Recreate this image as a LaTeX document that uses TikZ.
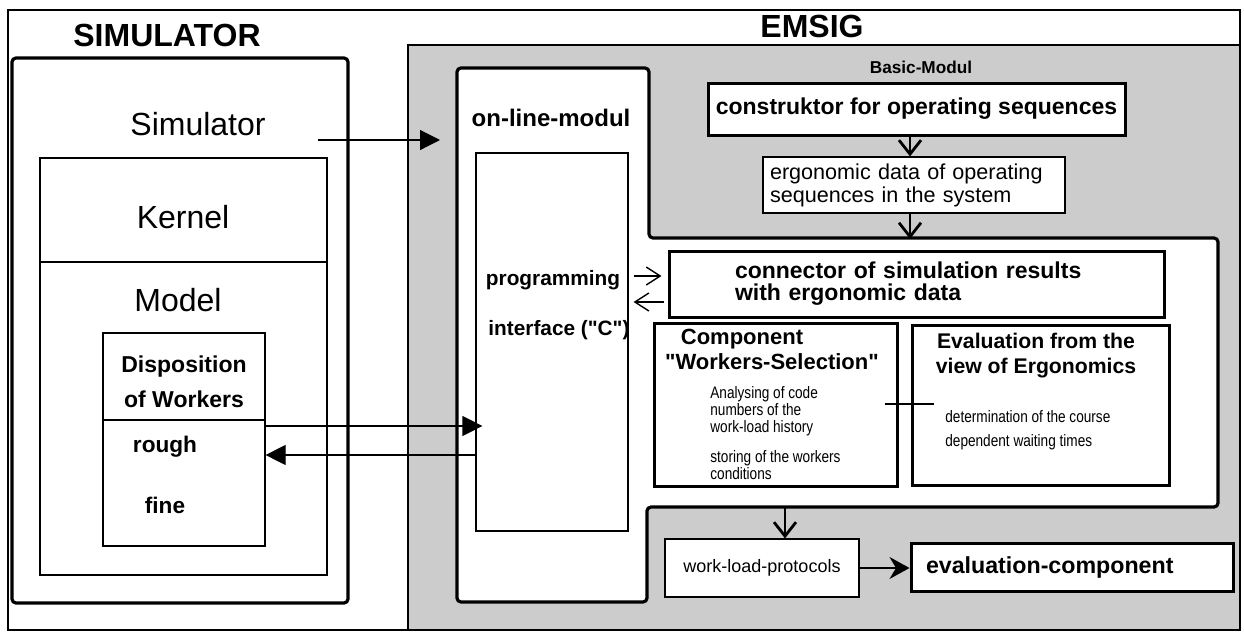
\documentclass[tikz,border=0pt]{standalone}
\usepackage{fontspec}
\setmainfont{Liberation Sans}
\newfontfamily\narrowfont[FakeStretch=0.82]{Liberation Sans}
\newfontfamily\quotefont{Liberation Sans}
\newcommand{\dq}{{\quotefont\char34}}
\usetikzlibrary{arrows.meta}
\begin{document}
\begin{tikzpicture}[x=0.5pt,y=-0.5pt,
  thinbox/.style={draw,line width=0.6pt,fill=white,inner sep=0pt},
  thickbox/.style={draw,line width=1.5pt,fill=white,inner sep=0pt},
  bigarrow/.style={line width=0.6pt,-{Triangle[length=10pt,width=10pt]}},
  openarrow/.style={line width=0.7pt,-{Straight Barb[length=7pt,width=9pt]}},
  downarrow/.style={line width=0.8pt,-{Straight Barb[length=7pt,width=11pt,line width=1.4pt]}},
  midarrow/.style={line width=0.8pt,-{Stealth[length=10pt,width=11pt]}}]
\useasboundingbox (0,0) rectangle (1244,632);
\draw[line width=0.8pt] (8,10) rectangle (1240,630);
\draw[line width=0.6pt,fill=black!20] (408,45) rectangle (1240,630);
\draw[line width=1.6pt,rounded corners=2pt] (12,58) rectangle (348,603);
\draw[line width=1.6pt,fill=white,rounded corners=2pt] (457,68) -| (649,238) -| (1218,507) -| (647,602) -- (457,602) -- cycle;
\node[font=\bfseries\fontsize{16}{18}\selectfont] (simtitle) at (167,35) {SIMULATOR};
\node[font=\bfseries\fontsize{16}{18}\selectfont] (emsigtitle) at (812,26) {EMSIG};
\node[font=\fontsize{16}{18}\selectfont] (simname) at (198,124) {Simulator};
\node[thinbox,minimum width=143.5pt,minimum height=52pt] (kernel) at (183.5,210) {};
\node[font=\fontsize{16}{18}\selectfont] (kerneltext) at (183,217) {Kernel};
\node[thinbox,minimum width=143.5pt,minimum height=156.5pt] (model) at (183.5,418.5) {};
\node[font=\fontsize{16}{18}\selectfont] (modeltext) at (178,300) {Model};
\node[thinbox,minimum width=81pt,minimum height=43.5pt] (dispo) at (184,376.5) {};
\node[align=center,font=\bfseries\fontsize{11.5}{17.5}\selectfont] (dispotext) at (184,382) {Disposition\\of Workers};
\node[thinbox,minimum width=81pt,minimum height=63pt] (workers) at (184,483) {};
\node[font=\bfseries\fontsize{11.3}{13}\selectfont] (rough) at (165,447) {rough};
\node[font=\bfseries\fontsize{11.3}{13}\selectfont] (fine) at (165,505) {fine};
\node[font=\bfseries\fontsize{12}{14}\selectfont] (onlinetitle) at (551,118) {on-line-modul};
\node[thinbox,minimum width=76pt,minimum height=189pt] (iface) at (552,342) {};
\node[font=\bfseries\fontsize{10.4}{12}\selectfont] (progtext) at (553,280) {programming};
\node[font=\bfseries\fontsize{10.4}{12}\selectfont] (ifacetext) at (559,330) {interface (\dq C\dq)};
\node[font=\bfseries\fontsize{8.6}{10}\selectfont] (basic) at (921,67) {Basic-Modul};
\node[thickbox,minimum width=208.5pt,minimum height=26pt,font=\bfseries\fontsize{11.5}{13}\selectfont] (cons) at (916.5,109) {construktor for operating sequences};
\node[thinbox,minimum width=151pt,minimum height=28pt,align=left,text width=144pt,font=\fontsize{10.8}{11.5}\selectfont] (ergo) at (914,185) {ergonomic data of operating\\sequences in the system};
\node[thickbox,minimum width=247.5pt,minimum height=33pt,align=left,text width=181.5pt,font=\bfseries\fontsize{11.5}{11}\selectfont] (conn) at (916.5,284) {connector of simulation results\\with ergonomic data};
\node[thickbox,minimum width=121.5pt,minimum height=81.5pt] (comp) at (775.5,404.5) {};
\node[font=\bfseries\fontsize{11}{13}\selectfont] (comptitle) at (742,339) {Component};
\node[font=\bfseries\fontsize{11}{13}\selectfont] (compsel) at (772,362) {\dq Workers-Selection\dq};
\node[anchor=north west,inner sep=0pt,align=left,font=\narrowfont\fontsize{8.3}{8.5}\selectfont] (comptext) at (710,386) {Analysing of code\\numbers of the\\work-load history\\[6.5pt]storing of the workers\\conditions};
\node[thickbox,minimum width=128.5pt,minimum height=80pt] (eval) at (1040.5,405) {};
\node[align=center,font=\bfseries\fontsize{10.6}{12.5}\selectfont] (evaltitle) at (1036,356) {Evaluation from the\\view of Ergonomics};
\node[anchor=north west,inner sep=0pt,align=left,font=\narrowfont\fontsize{8.3}{12}\selectfont] (evaltext) at (945,410) {determination of the course\\dependent waiting times};
\node[thinbox,minimum width=97pt,minimum height=29pt,font=\fontsize{9}{11}\selectfont] (wlp) at (762,568) {work-load-protocols};
\node[thickbox,minimum width=161pt,minimum height=24pt,align=left,text width=146pt,font=\bfseries\fontsize{11.6}{13}\selectfont] (evalcomp) at (1072,567) {evaluation-component};
\coordinate (simout) at (318,140);
\coordinate (onlinein) at (440,140);
\coordinate (onlinetop) at (910,239);
\coordinate (onlinebot) at (785,507);
\draw[bigarrow] (simout) -- (onlinein);
\draw[bigarrow,shorten >=-3.5pt] (workers.east |- 0,426) -- (iface.west |- 0,426);
\draw[bigarrow] (iface.west |- 0,455) -- (workers.east |- 0,455);
\draw[openarrow,shorten <=2.5pt,shorten >=3pt] (iface.east |- 0,276) -- (conn.west |- 0,276);
\draw[openarrow,shorten <=2pt,shorten >=2.5pt] (conn.west |- 0,302) -- (iface.east |- 0,302);
\draw[downarrow] (cons.south -| 910,0) -- (ergo.north -| 910,0);
\draw[downarrow] (ergo.south -| 910,0) -- (onlinetop);
\draw[downarrow] (onlinebot) -- (wlp.north -| onlinebot);
\draw[midarrow] (wlp.east) -- (evalcomp.west |- wlp.east);
\draw[line width=0.8pt] (comp.east |- 0,404) ++(-14,0) -- (eval.west |- 0,404) -- ++(23,0);
\end{tikzpicture}
\end{document}
